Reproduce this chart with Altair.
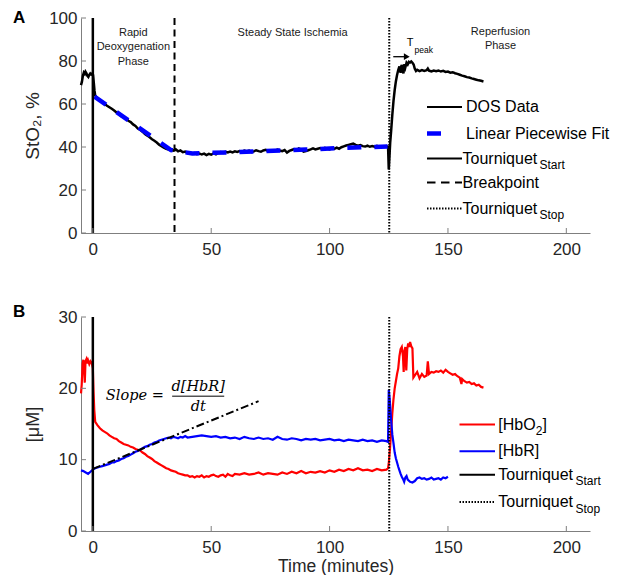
import altair as alt
import pandas as pd

# ---------------- data ----------------
x_ticks = [0, 50, 100, 150, 200]
sto2_ticks = [0, 20, 40, 60, 80, 100]
conc_ticks = [0, 10, 20, 30]

# StO2 (%) DOS data, (time [min], value)
sto2 = [
    (-5.0, 68.8), (-4.6, 70.4), (-4.2, 73.1), (-3.8, 74.6), (-3.4, 74.0), (-3.1, 75.0), (-2.7, 74.3),
    (-2.3, 73.1), (-1.9, 72.6), (-1.5, 73.6), (-1.1, 74.2), (-0.7, 73.7), (-0.3, 74.1), (0.1, 73.5),
    (0.4, 70.0), (0.7, 66.2), (1.0, 64.0), (1.5, 63.3),
    (2, 62.7), (3, 61.6), (4, 60.8), (5, 60.0), (6, 59.2), (7, 58.5), (8, 57.8), (9, 57.0), (10, 56.1),
    (11, 55.4), (12, 54.3), (13, 54.0), (14, 53.1), (15, 52.2), (16, 51.6), (17, 50.5), (18, 49.8),
    (19, 48.6), (20, 48.0), (21, 47.1), (22, 46.0), (23, 45.3), (24, 44.5), (25, 43.6), (26, 42.9),
    (27, 42.1), (28, 41.1), (29, 40.4), (30, 39.7), (31, 39.1), (32, 38.8), (33, 38.6), (34, 38.3),
    (35, 38.9), (36, 38.0), (37, 38.4), (38, 37.6), (39, 37.9), (40, 37.1), (41, 37.4), (42, 36.9),
    (43, 37.2), (44, 36.7), (45, 37.0), (46, 36.5), (47, 36.9), (48, 36.2), (49, 36.8), (50, 36.4),
    (51, 37.0), (52, 36.6), (53, 37.3), (54, 37.6), (55, 37.3), (56, 37.8), (57, 37.5), (58, 37.9),
    (59, 37.5), (60, 38.0), (61, 37.7), (62, 38.1), (63, 37.8), (64, 38.3), (65, 37.9), (66, 38.3),
    (67, 37.6), (68, 38.0), (69, 38.5), (70, 38.1), (71, 37.8), (72, 38.4), (73, 38.7), (74, 38.2),
    (75, 38.5), (76, 38.0), (77, 38.3), (78, 38.8), (79, 38.4), (80, 38.1), (81, 38.6), (82, 37.4),
    (83, 38.2), (84, 38.6), (85, 39.0), (86, 38.5), (87, 39.3), (88, 38.8), (89, 37.8), (90, 38.1),
    (91, 38.5), (92, 38.9), (93, 39.4), (94, 38.9), (95, 39.2), (96, 39.5), (97, 39.0), (98, 39.6),
    (99, 39.2), (100, 38.9), (101, 39.5), (102, 39.1), (103, 39.7), (104, 39.2), (105, 39.9),
    (106, 40.3), (107, 40.7), (108, 41.0), (109, 41.3), (110, 41.6), (111, 41.0), (112, 40.6),
    (113, 40.9), (114, 40.4), (115, 40.2), (116, 40.6), (117, 40.1), (118, 40.4), (119, 40.1),
    (120, 40.5), (121, 40.0), (122, 40.3), (123, 40.0), (124, 40.4), (124.7, 40.1),
    (125.0, 29.5), (125.3, 35.5), (125.6, 42.0), (126.0, 47.5), (126.5, 55.0), (127.0, 61.5),
    (127.5, 66.5), (128.0, 70.5), (128.5, 73.5), (129.0, 75.8), (129.5, 77.5), (130.0, 74.5),
    (130.4, 78.2), (130.8, 76.0), (131.2, 74.2), (131.6, 78.6), (132.0, 77.0), (132.5, 79.2),
    (133.0, 78.4), (133.5, 79.6), (134.0, 79.3), (134.5, 79.8), (135.0, 79.2), (135.5, 78.4),
    (136.0, 76.4), (136.5, 75.4), (137, 75.9), (138, 75.3), (139, 75.8), (140, 75.4), (141, 75.7),
    (141.5, 76.5), (142, 75.5), (143, 75.2), (144, 75.6), (145, 75.3), (146, 75.6), (147, 75.1),
    (148, 75.4), (149, 74.9), (150, 75.1), (151, 74.6), (152, 74.8), (153, 74.3), (154, 74.0),
    (155, 73.6), (156, 73.2), (157, 72.9), (158, 72.5), (159, 72.3), (160, 71.9), (161, 71.6),
    (162, 71.3), (163, 71.0), (164, 70.8), (165, 70.5),
]

# Linear piecewise fit of StO2
fit = [(0.7, 63.4), (33, 38.6), (42, 37.0), (60, 37.6), (90, 38.8), (105, 39.6), (124.5, 40.2)]

# [HbO2] (uM)
hbo2 = [
    (-5.0, 19.3), (-4.7, 20.5), (-4.3, 23.5), (-4.0, 24.0), (-3.7, 23.0), (-3.4, 20.8), (-3.1, 23.8),
    (-2.7, 24.1), (-2.3, 23.5), (-2.0, 23.9), (-1.5, 23.4), (-1.0, 23.8), (-0.5, 23.6), (0.0, 22.8),
    (0.3, 19.5), (0.6, 17.0), (1, 15.3), (2, 14.8), (3, 14.4), (4, 14.1), (5, 13.9), (6, 13.7),
    (7, 13.4), (8, 13.2), (9, 13.0), (10, 12.9), (11, 12.6), (12, 12.4), (13, 12.2), (14, 12.1),
    (15, 12.0), (16, 11.8), (17, 11.7), (18, 11.5), (19, 11.4), (20, 11.3), (21, 11.0), (22, 10.8),
    (23, 10.5), (24, 10.3), (25, 10.1), (26, 9.8), (27, 9.6), (28, 9.4), (29, 9.2), (30, 9.0),
    (31, 8.8), (32, 8.7), (33, 8.5), (34, 8.4), (35, 8.3), (36, 8.1), (37, 8.0), (38, 7.9), (39, 7.8),
    (40, 7.8), (41, 7.6), (42, 7.7), (43, 7.5), (44, 7.7), (45, 7.6), (46, 7.8), (47, 7.5), (48, 7.7),
    (49, 7.6), (50, 7.8), (51, 7.9), (52, 7.7), (53, 7.6), (54, 7.8), (55, 7.9), (56, 7.6), (57, 8.0),
    (58, 7.8), (59, 7.7), (60, 8.0), (62, 7.9), (64, 8.1), (66, 7.9), (68, 8.0), (70, 8.2), (72, 7.9),
    (74, 8.1), (76, 8.0), (78, 7.9), (80, 8.2), (82, 8.0), (84, 8.3), (86, 8.1), (88, 8.4), (90, 8.1),
    (92, 8.3), (94, 8.2), (96, 8.4), (98, 8.2), (100, 8.5), (102, 8.3), (104, 8.6), (106, 8.4),
    (108, 8.7), (110, 8.5), (112, 8.8), (114, 8.5), (116, 8.6), (118, 8.4), (120, 8.7), (122, 8.5),
    (124, 8.6), (124.7, 8.8), (125.0, 9.5), (125.5, 11.5), (126.0, 14.0), (126.5, 16.5), (127.0, 18.5),
    (127.5, 20.0), (128.0, 21.0), (128.5, 22.0), (129.0, 22.8), (129.5, 24.5), (130.0, 25.5),
    (130.5, 25.8), (131.0, 24.5), (131.3, 22.3), (131.6, 25.2), (132.0, 25.8), (132.4, 22.5),
    (132.8, 25.5), (133.2, 26.3), (133.6, 25.8), (134.0, 26.5), (134.5, 25.9), (135.0, 25.6),
    (135.4, 21.5), (136, 21.8), (137, 22.3), (138, 21.4), (139, 22.0), (140, 21.6), (141, 21.8),
    (141.5, 23.8), (142, 22.0), (143, 22.3), (144, 22.2), (145, 22.4), (146, 22.3), (147, 22.5),
    (148, 22.2), (149, 22.6), (150, 22.3), (151, 22.1), (152, 21.9), (153, 22.0), (154, 21.7),
    (155, 21.5), (155.7, 20.6), (156, 21.3), (157, 21.0), (158, 20.8), (159, 20.9), (160, 20.6),
    (161, 20.7), (162, 20.4), (163, 20.5), (164, 20.2), (165, 20.1),
]

# [HbR] (uM)
hbr = [
    (-5, 8.5), (-4, 8.4), (-3, 8.2), (-2, 8.0), (-1, 8.3), (0, 8.6), (1, 8.8), (2, 8.9), (3, 9.0),
    (4, 9.1), (5, 9.2), (6, 9.3), (7, 9.4), (8, 9.6), (9, 9.6), (10, 9.8), (11, 9.9), (12, 10.1),
    (13, 10.2), (14, 10.4), (15, 10.5), (16, 10.7), (17, 10.9), (18, 11.1), (19, 11.2), (20, 11.4),
    (21, 11.6), (22, 11.8), (23, 11.9), (24, 12.1), (25, 12.2), (26, 12.4), (27, 12.5), (28, 12.7),
    (29, 12.8), (30, 12.9), (31, 13.0), (32, 13.1), (33, 13.0), (34, 13.2), (35, 13.1), (36, 13.0),
    (37, 13.2), (38, 13.1), (39, 13.3), (40, 13.1), (42, 13.2), (44, 13.3), (46, 13.4), (48, 13.3),
    (50, 13.2), (52, 13.3), (54, 13.1), (56, 13.2), (58, 13.0), (60, 13.1), (62, 12.9), (64, 13.2),
    (66, 13.0), (68, 12.9), (70, 13.1), (72, 12.9), (74, 13.0), (76, 12.8), (78, 13.2), (80, 12.9),
    (82, 12.8), (84, 13.0), (86, 12.9), (88, 12.7), (90, 12.9), (92, 12.8), (94, 12.9), (96, 12.7),
    (98, 12.8), (100, 12.9), (102, 12.7), (104, 12.8), (106, 12.6), (108, 12.8), (110, 12.7),
    (112, 12.6), (114, 12.8), (116, 12.6), (118, 12.7), (120, 12.5), (122, 12.7), (124, 12.6),
    (124.7, 12.5), (125.0, 19.8), (125.4, 18.5), (126.0, 15.5), (126.5, 13.5), (127.0, 12.3),
    (127.5, 11.0), (128.0, 10.2), (128.5, 9.6), (129.0, 9.0), (129.5, 8.5), (130.0, 8.0), (130.5, 7.6),
    (131.0, 7.3), (131.5, 6.9), (132.0, 7.5), (132.5, 7.7), (133, 7.2), (134, 6.9), (135, 6.8),
    (136, 7.0), (137, 7.4), (138, 7.5), (139, 7.3), (140, 7.4), (141, 7.2), (142, 7.3), (143, 7.5),
    (144, 7.2), (145, 7.3), (146, 7.4), (147, 7.2), (148, 7.5), (149, 7.4), (150, 7.6),
]

slope_line = [(0, 8.7), (70, 18.2)]
tq_start = 0
breakpoint_t = 34.5
tq_stop = 125.2

# annotation texts anchored in data coordinates (time, value)
phase_labels = [("Rapid", 17.1, 93.0), ("Deoxygenation", 17.1, 86.5), ("Phase", 17.1, 79.6),
                ("Steady State Ischemia", 84.4, 93.0), ("Reperfusion", 172.2, 93.5), ("Phase", 172.2, 87.0)]
tpeak_arrow = [(126.9, 132.6, 82.0)]

# ---------------- styling ----------------
FONT = "Liberation Sans"
SERIF = "DejaVu Serif"
GRAY = "#7f7f7f"
TXT = "#262626"
W, HA, HB = 509, 215, 214
LF = 16  # legend font size

xs = alt.Scale(domain=[-5, 210], nice=False, zero=False)
ysA = alt.Scale(domain=[0, 100], nice=False, zero=False)
ysB = alt.Scale(domain=[0, 30], nice=False, zero=False)


def xaxis(title):
    kw = dict(values=x_ticks, ticks=False, grid=False, labelPadding=8, domainColor=GRAY,
              labelColor=TXT, labelFontSize=17, labelFont=FONT, labelFlush=False)
    if title:
        kw.update(title=title, titleFontSize=17.5, titleFont=FONT, titleColor=TXT,
                  titleFontWeight="normal", titlePadding=2)
    else:
        kw.update(title=None)
    return alt.Axis(**kw)


def yaxis(vals, title, tpad, tsize):
    return alt.Axis(values=vals, ticks=False, grid=False, labelPadding=4, domainColor=GRAY,
                    labelColor=TXT, labelFontSize=17, labelFont=FONT, title=title, titleFontSize=tsize,
                    titleFont=FONT, titleColor=TXT, titleFontWeight="normal", titlePadding=tpad,
                    labelFlush=False)


XA = alt.X("t:Q", scale=xs, axis=xaxis(None))
YA = alt.Y("v:Q", scale=ysA, axis=yaxis(sto2_ticks, "StO₂, %", 6, 19))
XB = alt.X("t:Q", scale=xs, axis=xaxis("Time (minutes)"))
YB = alt.Y("v:Q", scale=ysB, axis=yaxis(conc_ticks, "[μM]", 16, 18))

one = pd.DataFrame({"a": [0]})


def txt(s, x, y, size=LF, **kw):
    params = dict(text=s, font=FONT, fontSize=size, color="black", align="left", baseline="middle")
    params.update(kw)
    return alt.Chart(one).mark_text(**params).encode(x=alt.value(x), y=alt.value(y))


def seg(x1, x2, y, **kw):
    return alt.Chart(one).mark_rule(**kw).encode(x=alt.value(x1), x2=alt.value(x2), y=alt.value(y))


def df(pairs):
    return pd.DataFrame(pairs, columns=["t", "v"])


def vline(t, X, **kw):
    return alt.Chart(pd.DataFrame({"t": [t]})).mark_rule(**kw).encode(x=X)


def inside_ticks(X, Y, H, yt):
    xt = alt.Chart(pd.DataFrame({"t": x_ticks})).mark_rule(color=GRAY, strokeWidth=1).encode(
        x=X, y=alt.value(H), y2=alt.value(H - 5))
    ytk = alt.Chart(pd.DataFrame({"v": yt})).mark_rule(color=GRAY, strokeWidth=1).encode(
        y=Y, x=alt.value(0), x2=alt.value(5))
    return [xt, ytk]


DOT = [1.5, 1.5]
DASH = [7, 4.5]

# ---------------- panel A ----------------
dos = alt.Chart(df(sto2)).mark_line(color="black", strokeWidth=2.5).encode(x=XA, y=YA)
fitl = alt.Chart(df(fit)).mark_line(color="#0000ff", strokeWidth=4.5, strokeDash=[14, 13]).encode(x=XA, y=YA)

phase_df = pd.DataFrame(phase_labels, columns=["label", "t", "v"])
phase = alt.Chart(phase_df).mark_text(font=FONT, fontSize=11, color="#1a1a1a", align="center",
                                      baseline="middle").encode(x=XA, y=YA, text="label:N")
tpk = alt.Chart(pd.DataFrame({"t": [134.0], "v": [88.2]})).mark_text(
    text="T", font=FONT, fontSize=11, color="black", baseline="middle").encode(x=XA, y=YA)
peak = alt.Chart(pd.DataFrame({"t": [135.9], "v": [85.1]})).mark_text(
    text="peak", font=FONT, fontSize=8.5, color="black", align="left", baseline="middle").encode(x=XA, y=YA)
arr_df = pd.DataFrame(tpeak_arrow, columns=["t", "t2", "v"])
arr = alt.Chart(arr_df).mark_rule(color="black", strokeWidth=1.3).encode(x=XA, x2="t2:Q", y=YA)
head = alt.Chart(arr_df).mark_point(shape="triangle-right", filled=True, color="black", size=45,
                                    opacity=1).encode(x=alt.X("t2:Q", scale=xs, axis=xaxis(None)), y=YA)

legA = [
    seg(346, 381, 89, color="black", strokeWidth=2),
    txt("DOS Data", 385, 89),
    seg(346, 360, 115.5, color="#0000ff", strokeWidth=4.5),
    txt("Linear Piecewise Fit", 385, 115.5),
    seg(346, 381, 140.5, color="black", strokeWidth=2),
    txt("Tourniquet", 381.5, 140.5),
    txt("Start", 458.5, 146.5, size=12),
    seg(346, 381, 164.5, color="black", strokeWidth=2, strokeDash=[8.5, 5.5]),
    txt("Breakpoint", 381.5, 164.5),
    seg(346, 381, 190.5, color="black", strokeWidth=2, strokeDash=DOT),
    txt("Tourniquet", 381.5, 190.5),
    txt("Stop", 458.5, 197, size=12),
    txt("A", -68, -8.5, size=17, fontWeight="bold", baseline="top"),
]

panelA = alt.layer(
    dos, fitl,
    vline(tq_start, XA, color="black", strokeWidth=2.5),
    vline(breakpoint_t, XA, color="black", strokeWidth=2, strokeDash=DASH),
    vline(tq_stop, XA, color="black", strokeWidth=2, strokeDash=DOT),
    phase, tpk, peak, arr, head,
    *inside_ticks(XA, YA, HA, sto2_ticks),
    *legA,
).properties(width=W, height=HA)

# ---------------- panel B ----------------
red = alt.Chart(df(hbo2)).mark_line(color="#ff0000", strokeWidth=2.2).encode(x=XB, y=YB)
blue = alt.Chart(df(hbr)).mark_line(color="#0000ff", strokeWidth=2.2).encode(x=XB, y=YB)
slope = alt.Chart(df(slope_line)).mark_line(color="black", strokeWidth=2,
                                            strokeDash=[8, 3, 2, 3]).encode(x=XB, y=YB)


def serif(s, t, v, align="left"):
    return alt.Chart(pd.DataFrame({"t": [t], "v": [v]})).mark_text(
        text=s, font=SERIF, fontSize=14.5, fontStyle="italic", color="black", align=align,
        baseline="middle").encode(x=XB, y=YB)


frac_bar = alt.Chart(pd.DataFrame({"t": [33.5], "t2": [55.5], "v": [18.9]})).mark_rule(
    color="black", strokeWidth=1).encode(x=XB, x2="t2:Q", y=YB)

legB = [
    seg(378.5, 414, 107.5, color="#ff0000", strokeWidth=2),
    txt("[HbO", 417.3, 107.5),
    txt("2", 454.8, 113.5, size=12),
    txt("]", 461.5, 107.5),
    seg(378.5, 414, 134.3, color="#0000ff", strokeWidth=2),
    txt("[HbR]", 417.3, 134.3),
    seg(378.5, 414, 157.7, color="black", strokeWidth=2),
    txt("Tourniquet", 417.3, 157.7),
    txt("Start", 494.5, 164, size=12),
    seg(378.5, 414, 185, color="black", strokeWidth=2, strokeDash=DOT),
    txt("Tourniquet", 417.3, 185),
    txt("Stop", 494.5, 192, size=12),
    txt("B", -68, -13, size=17, fontWeight="bold", baseline="top"),
]

panelB = alt.layer(
    red, blue, slope,
    vline(tq_start, XB, color="black", strokeWidth=2.5),
    vline(tq_stop, XB, color="black", strokeWidth=2, strokeDash=DOT),
    serif("Slope", 5.5, 18.9), serif("=", 27.5, 18.9, "center"),
    serif("d[HbR]", 44.5, 20.2, "center"), serif("dt", 44.5, 17.4, "center"),
    frac_bar,
    *inside_ticks(XB, YB, HB, conc_ticks),
    *legB,
).properties(width=W, height=HB)

chart = alt.vconcat(panelA, panelB, spacing=46).properties(
    padding={"left": 5, "top": 0, "right": 0, "bottom": 0}
).configure_view(stroke=None)

chart.save("out.html", embed_options={"renderer": "svg", "actions": False})
